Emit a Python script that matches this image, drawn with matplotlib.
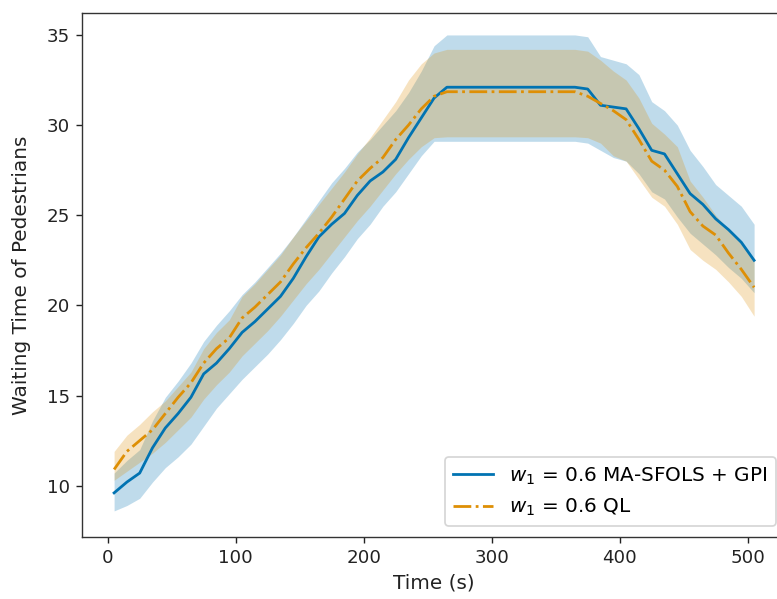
import numpy as np
import matplotlib
matplotlib.use("Agg")
import matplotlib.pyplot as plt

time_s = [5, 15, 25, 35, 45, 55, 65, 75, 85, 95, 105, 115, 125, 135, 145, 155, 165, 175,
          185, 195, 205, 215, 225, 235, 245, 255, 265, 275, 285, 295, 305, 315, 325, 335,
          345, 355, 365, 375, 385, 395, 405, 415, 425, 435, 445, 455, 465, 475, 485, 495, 505]

sfols_mean = [9.6, 10.2, 10.7, 12.1, 13.2, 14.0, 14.9, 16.2, 16.8, 17.6, 18.5, 19.1, 19.8,
              20.5, 21.5, 22.7, 23.8, 24.5, 25.1, 26.1, 26.9, 27.4, 28.1, 29.3, 30.4, 31.5,
              32.1, 32.1, 32.1, 32.1, 32.1, 32.1, 32.1, 32.1, 32.1, 32.1, 32.1, 32.0, 31.1,
              31.0, 30.9, 29.8, 28.6, 28.4, 27.3, 26.2, 25.6, 24.8, 24.2, 23.5, 22.5]
sfols_low = [8.6, 8.9, 9.3, 10.2, 11.0, 11.6, 12.3, 13.3, 14.3, 15.1, 15.9, 16.6, 17.3,
             18.1, 19.0, 20.0, 20.8, 21.8, 22.7, 23.7, 24.5, 25.5, 26.3, 27.3, 28.3, 29.1,
             29.1, 29.1, 29.1, 29.1, 29.1, 29.1, 29.1, 29.1, 29.1, 29.1, 29.1, 29.0, 28.6,
             28.2, 28.0, 27.3, 26.3, 25.9, 24.9, 24.0, 23.4, 22.8, 22.1, 21.5, 20.7]
sfols_high = [10.7, 11.4, 12.0, 13.6, 14.9, 15.8, 16.8, 18.0, 18.9, 19.7, 20.6, 21.3, 22.1,
              22.9, 23.8, 24.8, 25.8, 26.8, 27.6, 28.5, 29.2, 30.0, 30.8, 31.8, 33.0, 34.4,
              35.0, 35.0, 35.0, 35.0, 35.0, 35.0, 35.0, 35.0, 35.0, 35.0, 35.0, 34.9, 33.8,
              33.6, 33.4, 32.8, 31.3, 30.8, 30.0, 28.6, 27.7, 26.7, 26.1, 25.5, 24.5]

ql_mean = [10.9, 11.9, 12.5, 13.1, 14.0, 14.9, 15.7, 16.8, 17.6, 18.2, 19.3, 19.9, 20.6,
           21.3, 22.3, 23.2, 24.0, 24.9, 25.9, 26.9, 27.6, 28.2, 29.2, 30.0, 30.9, 31.6,
           31.85, 31.85, 31.85, 31.85, 31.85, 31.85, 31.85, 31.85, 31.85, 31.85, 31.85, 31.6,
           31.2, 30.8, 30.3, 29.2, 28.0, 27.5, 26.6, 25.2, 24.4, 23.9, 22.9, 22.0, 21.0]
ql_low = [10.3, 10.8, 11.3, 11.8, 12.4, 13.1, 13.8, 14.8, 15.6, 16.3, 17.2, 17.9, 18.6,
          19.4, 20.3, 21.2, 22.0, 22.9, 23.8, 24.7, 25.5, 26.4, 27.3, 28.1, 28.8, 29.3,
          29.35, 29.35, 29.35, 29.35, 29.35, 29.35, 29.35, 29.35, 29.35, 29.35, 29.35, 29.3,
          29.0, 28.3, 28.0, 27.0, 26.0, 25.5, 24.5, 23.1, 22.5, 22.0, 21.3, 20.5, 19.4]
ql_high = [11.9, 12.8, 13.4, 14.1, 14.7, 15.5, 16.3, 17.6, 18.5, 19.2, 20.5, 21.2, 22.0,
           22.8, 23.8, 24.7, 25.6, 26.5, 27.4, 28.4, 29.3, 30.3, 31.3, 32.5, 33.4, 34.0,
           34.2, 34.2, 34.2, 34.2, 34.2, 34.2, 34.2, 34.2, 34.2, 34.2, 34.2, 34.1, 33.6,
           33.0, 32.5, 31.5, 30.1, 29.5, 28.8, 26.9, 26.0, 25.0, 24.2, 23.4, 22.5]

labels = ["$w_1$ = 0.6 MA-SFOLS + GPI", "$w_1$ = 0.6 QL"]
blue = "#0173b2"
orange = "#de8f05"

fig = plt.figure(figsize=(777 / 125, 599 / 125), dpi=125)
ax = fig.add_axes([82.1 / 777, (599 - 536.7) / 599, (786.1 - 82.1) / 777, (536.7 - 13.3) / 599])

ax.plot(time_s, sfols_mean, color=blue, linestyle="-", linewidth=1.6, label=labels[0])
ax.fill_between(time_s, sfols_low, sfols_high, color=blue, alpha=0.25, linewidth=0)
ax.plot(time_s, ql_mean, color=orange, linestyle="-.", linewidth=1.6, label=labels[1])
ax.fill_between(time_s, ql_low, ql_high, color=orange, alpha=0.25, linewidth=0)

ax.set_xlim(-20, 530)
ax.set_ylim(7.17, 36.2)
ax.set_xticks([0, 100, 200, 300, 400, 500])
ax.set_yticks([10, 15, 20, 25, 30, 35])
ax.tick_params(labelsize=10.5, colors="#222222")
for s in ax.spines.values():
    s.set_color("#333333")
ax.set_xlabel("Time (s)", fontsize=11.5, color="#222222")
ax.set_ylabel("Waiting Time of Pedestrians", fontsize=11.5, labelpad=9, color="#222222")

ax.legend(loc="lower right", bbox_to_anchor=(775.7 / 777, (599 - 526) / 599),
          bbox_transform=fig.transFigure, borderaxespad=0, fontsize=11.5)

fig.savefig("out.png", dpi=125)
